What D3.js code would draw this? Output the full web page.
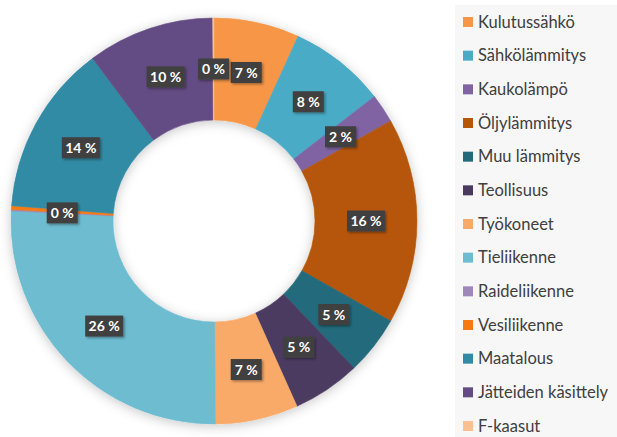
<!DOCTYPE html>
<html>
<head>
<meta charset="utf-8">
<script src="https://cdn.jsdelivr.net/npm/d3@7"></script>
<style>
  body { margin: 0; background: #fff; }
  svg { display: block; font-family: Lato, "Open Sans", sans-serif; }
</style>
</head>
<body>
<svg id="chart" width="617" height="437"></svg>
<script>
// categories and shares (%)
var categories = ["Kulutussähkö", "Sähkölämmitys", "Kaukolämpö", "Öljylämmitys", "Muu lämmitys",
  "Teollisuus", "Työkoneet", "Tieliikenne", "Raideliikenne", "Vesiliikenne", "Maatalous",
  "Jätteiden käsittely", "F-kaasut"];
var shares = [6.8, 7.7, 2.3, 16.4, 4.7, 5.4, 6.6, 25.9, 0.1, 0.3, 13.6, 10.1, 0.1];
var colors = ["#f79646", "#4aabc5", "#8064a2", "#b65708", "#246a7b", "#4b3a60", "#f9aa69",
  "#6ebcd0", "#9d88b9", "#f57a14", "#328ba4", "#644b83", "#fac090"];

var svg = d3.select("#chart");
var cx = 214, cy = 221, rOuter = 203, rInner = 101;

var defs = svg.append("defs");
defs.append("filter").attr("id", "ringShadow")
  .attr("x", "-20%").attr("y", "-20%").attr("width", "140%").attr("height", "140%")
  .append("feDropShadow")
  .attr("dx", 0).attr("dy", 2).attr("stdDeviation", 6)
  .attr("flood-color", "#000").attr("flood-opacity", 0.22);
defs.append("filter").attr("id", "boxShadow")
  .attr("x", "-30%").attr("y", "-30%").attr("width", "160%").attr("height", "160%")
  .append("feDropShadow")
  .attr("dx", 1.5).attr("dy", 1.5).attr("stdDeviation", 1.2)
  .attr("flood-color", "#000").attr("flood-opacity", 0.35);

// legend background
svg.append("rect")
  .attr("x", 455).attr("y", 5).attr("width", 162).attr("height", 432)
  .attr("fill", "#f7f7f7");

var data = categories.map(function(c, i) { return { name: c, value: shares[i], color: colors[i] }; });

var pie = d3.pie().sort(null).value(function(d) { return d.value; });
var arc = d3.arc().innerRadius(rInner).outerRadius(rOuter);
var labelArc = d3.arc().innerRadius((rInner + rOuter) / 2).outerRadius((rInner + rOuter) / 2);

var g = svg.append("g").attr("transform", "translate(" + cx + "," + cy + ")");

var ring = g.append("g").attr("filter", "url(#ringShadow)");
ring.selectAll("path")
  .data(pie(data)).enter()
  .append("path")
  .attr("d", arc)
  .attr("fill", function(d) { return d.data.color; })
  .attr("stroke", function(d) { return d.data.color; })
  .attr("stroke-width", 0.6);

// data labels - like Excel, a label that would sit on top of an earlier one is hidden
var placed = [];
var arcs = pie(data).filter(function(d) {
  var p = labelArc.centroid(d);
  var clash = placed.some(function(q) { return Math.abs(q[0] - p[0]) < 30 && Math.abs(q[1] - p[1]) < 18; });
  if (!clash) placed.push(p);
  return !clash;
});

var labels = g.selectAll("g.lbl")
  .data(arcs).enter()
  .append("g")
  .attr("class", "lbl")
  .attr("transform", function(d) { var p = labelArc.centroid(d); return "translate(" + p[0] + "," + p[1] + ")"; });

labels.each(function(d) {
  var txt = Math.round(d.data.value) + " %";
  var w = txt.length > 3 ? 38 : 31;
  var sel = d3.select(this);
  sel.append("rect")
    .attr("x", -w / 2).attr("y", -10.5)
    .attr("width", w).attr("height", 21)
    .attr("fill", "#404040")
    .attr("filter", "url(#boxShadow)");
  sel.append("text")
    .attr("text-anchor", "middle")
    .attr("dy", "0.36em")
    .attr("fill", "#fff")
    .attr("font-size", 14)
    .attr("font-weight", "bold")
    .text(txt);
});

// legend
var legendY = d3.scalePoint().domain(categories).range([22, 426]);
var leg = svg.append("g").selectAll("g")
  .data(data).enter()
  .append("g")
  .attr("transform", function(d) { return "translate(463," + legendY(d.name) + ")"; });

leg.append("rect")
  .attr("x", 0).attr("y", -5)
  .attr("width", 10).attr("height", 10)
  .attr("fill", function(d) { return d.color; });

leg.append("text")
  .attr("x", 15)
  .attr("dy", "0.35em")
  .attr("font-size", 16.5)
  .attr("fill", "#404040")
  .text(function(d) { return d.name; });
</script>
</body>
</html>
